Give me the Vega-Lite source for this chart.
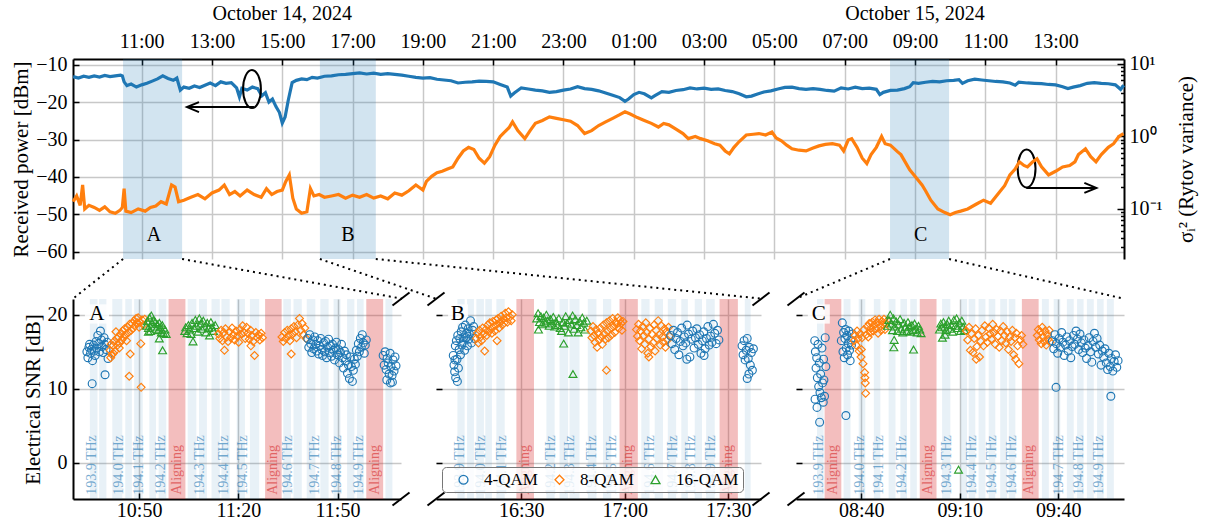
{
"$schema":"https://vega.github.io/schema/vega-lite/v6.json",
"padding":{"left":10,"top":4,"right":2,"bottom":2},
"config":{"font":"Liberation Serif","view":{"stroke":null},
"axis":{"labelFont":"Liberation Serif","titleFont":"Liberation Serif","labelFontSize":20,"titleFontSize":21,"titleFontWeight":"normal","labelColor":"black","titleColor":"black","domainColor":"black","domainWidth":2,"tickColor":"black","tickWidth":1.5,"tickSize":-6,"labelPadding":12,"gridColor":"#c8c8c8","gridWidth":1.5,"labelOverlap":false,"labelFlush":false},
"axisY":{"labelOverlap":false},
"text":{"font":"Liberation Serif"}},
"datasets":{
"power":[{"t":9.05,"p":-13.2},{"t":9.2,"p":-13.6},{"t":9.35,"p":-13.1},{"t":9.5,"p":-13.4},{"t":9.65,"p":-13.0},{"t":9.8,"p":-13.3},{"t":9.95,"p":-12.9},{"t":10.1,"p":-13.2},{"t":10.25,"p":-13.0},{"t":10.4,"p":-12.8},{"t":10.45,"p":-13.0},{"t":10.5,"p":-14.6},{"t":10.58,"p":-15.6},{"t":10.7,"p":-15.2},{"t":10.85,"p":-16.0},{"t":11.0,"p":-15.4},{"t":11.15,"p":-15.0},{"t":11.3,"p":-14.4},{"t":11.45,"p":-13.8},{"t":11.6,"p":-13.0},{"t":11.75,"p":-13.7},{"t":11.9,"p":-14.2},{"t":12.0,"p":-13.6},{"t":12.1,"p":-16.8},{"t":12.2,"p":-16.0},{"t":12.35,"p":-16.3},{"t":12.5,"p":-15.7},{"t":12.65,"p":-16.1},{"t":12.8,"p":-15.5},{"t":12.95,"p":-14.9},{"t":13.1,"p":-15.6},{"t":13.25,"p":-14.6},{"t":13.4,"p":-15.0},{"t":13.55,"p":-14.8},{"t":13.7,"p":-16.2},{"t":13.78,"p":-18.6},{"t":13.85,"p":-16.3},{"t":14.0,"p":-16.8},{"t":14.15,"p":-16.0},{"t":14.3,"p":-16.4},{"t":14.42,"p":-18.3},{"t":14.52,"p":-17.5},{"t":14.62,"p":-20.0},{"t":14.72,"p":-19.2},{"t":14.82,"p":-21.2},{"t":14.92,"p":-22.8},{"t":15.0,"p":-25.6},{"t":15.08,"p":-24.0},{"t":15.17,"p":-19.5},{"t":15.28,"p":-14.8},{"t":15.4,"p":-14.2},{"t":15.55,"p":-13.8},{"t":15.7,"p":-14.0},{"t":15.85,"p":-13.4},{"t":16.0,"p":-13.6},{"t":16.2,"p":-13.1},{"t":16.4,"p":-13.0},{"t":16.6,"p":-12.7},{"t":16.8,"p":-12.6},{"t":17.0,"p":-12.4},{"t":17.2,"p":-12.2},{"t":17.4,"p":-12.5},{"t":17.6,"p":-12.3},{"t":17.8,"p":-12.6},{"t":18.0,"p":-12.4},{"t":18.2,"p":-12.6},{"t":18.4,"p":-12.8},{"t":18.6,"p":-13.1},{"t":18.8,"p":-13.4},{"t":19.0,"p":-13.6},{"t":19.2,"p":-13.5},{"t":19.4,"p":-13.9},{"t":19.6,"p":-14.1},{"t":19.8,"p":-14.3},{"t":20.0,"p":-14.9},{"t":20.2,"p":-14.7},{"t":20.4,"p":-14.6},{"t":20.6,"p":-14.4},{"t":20.8,"p":-14.5},{"t":21.0,"p":-14.6},{"t":21.2,"p":-15.3},{"t":21.4,"p":-16.0},{"t":21.5,"p":-18.4},{"t":21.6,"p":-17.6},{"t":21.8,"p":-16.2},{"t":22.0,"p":-16.5},{"t":22.2,"p":-16.8},{"t":22.4,"p":-17.0},{"t":22.6,"p":-17.4},{"t":22.8,"p":-17.2},{"t":23.0,"p":-16.8},{"t":23.2,"p":-16.5},{"t":23.4,"p":-15.9},{"t":23.6,"p":-16.4},{"t":23.8,"p":-16.6},{"t":24.0,"p":-17.0},{"t":24.2,"p":-17.6},{"t":24.4,"p":-18.2},{"t":24.6,"p":-18.8},{"t":24.75,"p":-19.8},{"t":24.85,"p":-19.2},{"t":25.0,"p":-18.0},{"t":25.15,"p":-17.4},{"t":25.3,"p":-17.8},{"t":25.5,"p":-18.9},{"t":25.6,"p":-18.3},{"t":25.8,"p":-17.2},{"t":26.0,"p":-17.4},{"t":26.2,"p":-16.9},{"t":26.4,"p":-16.7},{"t":26.6,"p":-16.2},{"t":26.8,"p":-16.5},{"t":27.0,"p":-16.3},{"t":27.2,"p":-16.6},{"t":27.4,"p":-16.5},{"t":27.6,"p":-16.9},{"t":27.8,"p":-17.2},{"t":28.0,"p":-17.8},{"t":28.2,"p":-18.6},{"t":28.35,"p":-18.4},{"t":28.5,"p":-17.9},{"t":28.7,"p":-17.3},{"t":28.9,"p":-17.0},{"t":29.1,"p":-16.5},{"t":29.3,"p":-16.1},{"t":29.5,"p":-16.0},{"t":29.7,"p":-16.4},{"t":29.9,"p":-16.6},{"t":30.1,"p":-16.4},{"t":30.3,"p":-16.6},{"t":30.5,"p":-16.9},{"t":30.7,"p":-17.1},{"t":30.9,"p":-16.2},{"t":31.1,"p":-16.5},{"t":31.3,"p":-16.0},{"t":31.5,"p":-16.4},{"t":31.7,"p":-16.3},{"t":31.9,"p":-16.6},{"t":32.0,"p":-18.0},{"t":32.1,"p":-17.4},{"t":32.3,"p":-16.9},{"t":32.5,"p":-16.8},{"t":32.7,"p":-16.4},{"t":32.85,"p":-15.9},{"t":32.95,"p":-14.8},{"t":33.1,"p":-15.0},{"t":33.3,"p":-14.7},{"t":33.5,"p":-14.5},{"t":33.7,"p":-14.6},{"t":33.9,"p":-14.3},{"t":34.1,"p":-14.2},{"t":34.25,"p":-14.0},{"t":34.35,"p":-15.0},{"t":34.5,"p":-14.3},{"t":34.7,"p":-13.9},{"t":34.9,"p":-14.1},{"t":35.1,"p":-14.3},{"t":35.3,"p":-14.5},{"t":35.5,"p":-14.6},{"t":35.7,"p":-14.9},{"t":35.85,"p":-15.5},{"t":35.95,"p":-14.7},{"t":36.2,"p":-14.9},{"t":36.4,"p":-15.0},{"t":36.6,"p":-15.1},{"t":36.8,"p":-15.3},{"t":37.0,"p":-15.4},{"t":37.2,"p":-15.9},{"t":37.35,"p":-16.4},{"t":37.5,"p":-16.0},{"t":37.7,"p":-15.6},{"t":37.9,"p":-15.0},{"t":38.1,"p":-14.8},{"t":38.3,"p":-15.0},{"t":38.5,"p":-15.1},{"t":38.7,"p":-15.4},{"t":38.85,"p":-16.6},{"t":38.94,"p":-15.5}],
"rytov":[{"t":9.05,"r":0.126},{"t":9.15,"r":0.151},{"t":9.25,"r":0.112},{"t":9.32,"r":0.214},{"t":9.38,"r":0.1},{"t":9.5,"r":0.112},{"t":9.65,"r":0.105},{"t":9.8,"r":0.0955},{"t":9.95,"r":0.107},{"t":10.1,"r":0.0912},{"t":10.25,"r":0.0871},{"t":10.38,"r":0.0955},{"t":10.45,"r":0.105},{"t":10.5,"r":0.191},{"t":10.55,"r":0.0933},{"t":10.7,"r":0.0891},{"t":10.9,"r":0.1},{"t":11.1,"r":0.0933},{"t":11.25,"r":0.105},{"t":11.4,"r":0.11},{"t":11.55,"r":0.126},{"t":11.7,"r":0.117},{"t":11.85,"r":0.214},{"t":11.95,"r":0.2},{"t":12.05,"r":0.126},{"t":12.2,"r":0.132},{"t":12.4,"r":0.145},{"t":12.6,"r":0.158},{"t":12.8,"r":0.138},{"t":13.0,"r":0.166},{"t":13.2,"r":0.182},{"t":13.35,"r":0.214},{"t":13.5,"r":0.158},{"t":13.65,"r":0.174},{"t":13.8,"r":0.151},{"t":14.0,"r":0.182},{"t":14.2,"r":0.158},{"t":14.4,"r":0.145},{"t":14.55,"r":0.191},{"t":14.7,"r":0.158},{"t":14.85,"r":0.174},{"t":15.0,"r":0.182},{"t":15.1,"r":0.24},{"t":15.2,"r":0.295},{"t":15.3,"r":0.141},{"t":15.4,"r":0.1},{"t":15.55,"r":0.0871},{"t":15.7,"r":0.0912},{"t":15.8,"r":0.191},{"t":15.9,"r":0.151},{"t":16.05,"r":0.158},{"t":16.2,"r":0.145},{"t":16.4,"r":0.151},{"t":16.6,"r":0.158},{"t":16.8,"r":0.141},{"t":17.0,"r":0.155},{"t":17.2,"r":0.145},{"t":17.4,"r":0.158},{"t":17.6,"r":0.141},{"t":17.8,"r":0.151},{"t":18.0,"r":0.138},{"t":18.2,"r":0.166},{"t":18.4,"r":0.155},{"t":18.6,"r":0.178},{"t":18.8,"r":0.214},{"t":19.0,"r":0.182},{"t":19.1,"r":0.24},{"t":19.25,"r":0.282},{"t":19.4,"r":0.316},{"t":19.55,"r":0.331},{"t":19.7,"r":0.355},{"t":19.85,"r":0.38},{"t":20.0,"r":0.501},{"t":20.15,"r":0.631},{"t":20.3,"r":0.708},{"t":20.45,"r":0.661},{"t":20.6,"r":0.501},{"t":20.75,"r":0.427},{"t":20.9,"r":0.525},{"t":21.05,"r":0.759},{"t":21.2,"r":1.0},{"t":21.3,"r":1.122},{"t":21.45,"r":1.318},{"t":21.55,"r":1.585},{"t":21.7,"r":1.202},{"t":21.9,"r":0.933},{"t":22.05,"r":1.202},{"t":22.2,"r":1.514},{"t":22.4,"r":1.66},{"t":22.6,"r":1.862},{"t":22.8,"r":1.778},{"t":23.0,"r":1.698},{"t":23.2,"r":1.622},{"t":23.4,"r":1.413},{"t":23.6,"r":1.096},{"t":23.8,"r":1.202},{"t":24.0,"r":1.413},{"t":24.2,"r":1.585},{"t":24.4,"r":1.778},{"t":24.6,"r":1.995},{"t":24.75,"r":2.188},{"t":24.9,"r":2.042},{"t":25.1,"r":1.82},{"t":25.3,"r":1.66},{"t":25.5,"r":1.514},{"t":25.7,"r":1.349},{"t":25.85,"r":1.514},{"t":26.0,"r":1.445},{"t":26.2,"r":1.259},{"t":26.4,"r":1.096},{"t":26.55,"r":0.933},{"t":26.75,"r":1.0},{"t":26.9,"r":0.933},{"t":27.1,"r":0.871},{"t":27.3,"r":0.794},{"t":27.45,"r":0.759},{"t":27.6,"r":0.631},{"t":27.72,"r":0.575},{"t":27.85,"r":0.708},{"t":28.0,"r":0.851},{"t":28.2,"r":1.047},{"t":28.4,"r":1.072},{"t":28.56,"r":1.096},{"t":28.75,"r":1.047},{"t":28.93,"r":1.148},{"t":29.05,"r":0.955},{"t":29.2,"r":0.871},{"t":29.35,"r":0.759},{"t":29.5,"r":0.676},{"t":29.7,"r":0.646},{"t":29.9,"r":0.631},{"t":30.1,"r":0.692},{"t":30.27,"r":0.741},{"t":30.45,"r":0.776},{"t":30.65,"r":0.794},{"t":30.85,"r":0.759},{"t":30.97,"r":0.631},{"t":31.1,"r":0.891},{"t":31.2,"r":0.933},{"t":31.35,"r":0.708},{"t":31.5,"r":0.501},{"t":31.63,"r":0.422},{"t":31.75,"r":0.562},{"t":31.9,"r":0.708},{"t":32.05,"r":1.0},{"t":32.15,"r":0.794},{"t":32.3,"r":0.759},{"t":32.5,"r":0.617},{"t":32.6,"r":0.562},{"t":32.85,"r":0.347},{"t":33.0,"r":0.282},{"t":33.2,"r":0.214},{"t":33.3,"r":0.178},{"t":33.45,"r":0.132},{"t":33.65,"r":0.1},{"t":33.85,"r":0.0891},{"t":34.0,"r":0.0832},{"t":34.15,"r":0.0891},{"t":34.3,"r":0.0933},{"t":34.5,"r":0.1},{"t":34.75,"r":0.117},{"t":34.95,"r":0.132},{"t":35.15,"r":0.12},{"t":35.4,"r":0.17},{"t":35.55,"r":0.209},{"t":35.7,"r":0.295},{"t":35.85,"r":0.355},{"t":35.97,"r":0.447},{"t":36.1,"r":0.398},{"t":36.2,"r":0.38},{"t":36.35,"r":0.447},{"t":36.47,"r":0.49},{"t":36.6,"r":0.38},{"t":36.8,"r":0.295},{"t":37.0,"r":0.331},{"t":37.2,"r":0.38},{"t":37.4,"r":0.398},{"t":37.55,"r":0.447},{"t":37.65,"r":0.562},{"t":37.85,"r":0.676},{"t":38.0,"r":0.525},{"t":38.15,"r":0.447},{"t":38.3,"r":0.562},{"t":38.5,"r":0.708},{"t":38.65,"r":0.794},{"t":38.8,"r":1.0},{"t":38.93,"r":1.096}],
"shade":[{"t0":10.47,"t1":12.15,"tm":11.35,"lab":"A"},{"t0":16.07,"t1":17.66,"tm":16.87,"lab":"B"},{"t0":32.29,"t1":33.97,"tm":33.16,"lab":"C"}],
"conn":[{"t0":10.47,"p0":-61.9,"t1":9.046,"p1":-72.5},{"t0":12.15,"p0":-61.9,"t1":18.405,"p1":-72.5},{"t0":16.07,"p0":-61.9,"t1":19.373,"p1":-72.5},{"t0":17.66,"p0":-61.9,"t1":28.647,"p1":-72.5},{"t0":32.29,"p0":-61.9,"t1":29.615,"p1":-72.5},{"t0":33.97,"p0":-61.9,"t1":38.946,"p1":-72.5}],
"bands":[
{"p":"A","a":635.1,"b":637.4,"k":"f"},{"p":"A","a":637.9,"b":640.1,"k":"f"},{"p":"A","a":641.9,"b":644.9,"k":"f"},{"p":"A","a":645.8,"b":647.8,"k":"f"},{"p":"A","a":648.5,"b":651.1,"k":"f"},{"p":"A","a":653.1,"b":655.1,"k":"f"},{"p":"A","a":655.9,"b":658.2,"k":"f"},{"p":"A","a":658.9,"b":664.0,"k":"al"},{"p":"A","a":664.7,"b":667.3,"k":"f"},{"p":"A","a":668.1,"b":670.5,"k":"f"},{"p":"A","a":671.9,"b":674.4,"k":"f"},{"p":"A","a":674.9,"b":677.4,"k":"f"},{"p":"A","a":679.5,"b":682.0,"k":"f"},{"p":"A","a":683.5,"b":686.3,"k":"f"},{"p":"A","a":688.1,"b":693.1,"k":"al"},{"p":"A","a":693.6,"b":695.9,"k":"f"},{"p":"A","a":696.7,"b":699.2,"k":"f"},{"p":"A","a":700.7,"b":703.3,"k":"f"},{"p":"A","a":704.8,"b":707.3,"k":"f"},{"p":"A","a":708.8,"b":710.9,"k":"f"},{"p":"A","a":712.9,"b":715.1,"k":"f"},{"p":"A","a":715.9,"b":717.9,"k":"f"},{"p":"A","a":718.7,"b":723.8,"k":"al"},{"p":"A","a":724.5,"b":726.6,"k":"f"},
{"p":"B","a":971.5,"b":973.6,"k":"f"},{"p":"B","a":974.3,"b":976.3,"k":"f"},{"p":"B","a":977.0,"b":979.2,"k":"f"},{"p":"B","a":979.6,"b":981.5,"k":"f"},{"p":"B","a":982.8,"b":985.2,"k":"f"},{"p":"B","a":988.6,"b":993.7,"k":"al"},{"p":"B","a":997.3,"b":999.7,"k":"f"},{"p":"B","a":1001.1,"b":1003.6,"k":"f"},{"p":"B","a":1004.0,"b":1006.9,"k":"f"},{"p":"B","a":1009.3,"b":1011.8,"k":"f"},{"p":"B","a":1013.7,"b":1016.1,"k":"f"},{"p":"B","a":1018.5,"b":1023.8,"k":"al"},{"p":"B","a":1024.8,"b":1027.2,"k":"f"},{"p":"B","a":1028.7,"b":1031.1,"k":"f"},{"p":"B","a":1032.5,"b":1034.9,"k":"f"},{"p":"B","a":1036.4,"b":1038.3,"k":"f"},{"p":"B","a":1040.3,"b":1042.4,"k":"f"},{"p":"B","a":1043.6,"b":1046.1,"k":"f"},{"p":"B","a":1047.5,"b":1052.8,"k":"al"},{"p":"B","a":1054.8,"b":1056.5,"k":"f"},
{"p":"C","a":506.5,"b":508.5,"k":"f"},{"p":"C","a":508.8,"b":513.9,"k":"al"},{"p":"C","a":514.6,"b":516.7,"k":"f"},{"p":"C","a":519.2,"b":521.2,"k":"f"},{"p":"C","a":523.8,"b":525.8,"k":"f"},{"p":"C","a":528.3,"b":530.4,"k":"f"},{"p":"C","a":531.9,"b":533.9,"k":"f"},{"p":"C","a":534.9,"b":536.9,"k":"f"},{"p":"C","a":537.8,"b":542.9,"k":"al"},{"p":"C","a":544.6,"b":547.1,"k":"f"},{"p":"C","a":550.2,"b":552.2,"k":"f"},{"p":"C","a":552.7,"b":554.7,"k":"f"},{"p":"C","a":555.7,"b":557.8,"k":"f"},{"p":"C","a":558.8,"b":560.8,"k":"f"},{"p":"C","a":562.3,"b":564.4,"k":"f"},{"p":"C","a":564.9,"b":566.9,"k":"f"},{"p":"C","a":568.9,"b":574.0,"k":"al"},{"p":"C","a":575.0,"b":577.1,"k":"f"},{"p":"C","a":578.6,"b":580.6,"k":"f"},{"p":"C","a":582.6,"b":584.7,"k":"f"},{"p":"C","a":585.7,"b":587.7,"k":"f"},{"p":"C","a":588.7,"b":590.8,"k":"f"},{"p":"C","a":591.8,"b":593.8,"k":"f"},{"p":"C","a":594.8,"b":596.9,"k":"f"}],
"fl":[
{"p":"A","t":635.8,"l":"193.9 THz","k":"f"},{"p":"A","t":643.8,"l":"194.0 THz","k":"f"},{"p":"A","t":649.9,"l":"194.1 THz","k":"f"},{"p":"A","t":656.6,"l":"194.2 THz","k":"f"},{"p":"A","t":661.4,"l":"Aligning","k":"al"},{"p":"A","t":668.3,"l":"194.3 THz","k":"f"},{"p":"A","t":675.6,"l":"194.4 THz","k":"f"},{"p":"A","t":681.4,"l":"194.5 THz","k":"f"},{"p":"A","t":690.6,"l":"Aligning","k":"al"},{"p":"A","t":695.1,"l":"194.6 THz","k":"f"},{"p":"A","t":703.3,"l":"194.7 THz","k":"f"},{"p":"A","t":709.8,"l":"194.8 THz","k":"f"},{"p":"A","t":716.4,"l":"194.9 THz","k":"f"},{"p":"A","t":721.2,"l":"Aligning","k":"al"},
{"p":"B","t":972.3,"l":"193.9 THz","k":"f"},{"p":"B","t":978.4,"l":"194.0 THz","k":"f"},{"p":"B","t":984.5,"l":"194.1 THz","k":"f"},{"p":"B","t":991.2,"l":"Aligning","k":"al"},{"p":"B","t":998.7,"l":"194.2 THz","k":"f"},{"p":"B","t":1004.0,"l":"194.3 THz","k":"f"},{"p":"B","t":1010.6,"l":"194.4 THz","k":"f"},{"p":"B","t":1016.3,"l":"194.5 THz","k":"f"},{"p":"B","t":1020.9,"l":"Aligning","k":"al"},{"p":"B","t":1027.4,"l":"194.6 THz","k":"f"},{"p":"B","t":1034.0,"l":"194.7 THz","k":"f"},{"p":"B","t":1039.3,"l":"194.8 THz","k":"f"},{"p":"B","t":1045.1,"l":"194.9 THz","k":"f"},{"p":"B","t":1049.9,"l":"Aligning","k":"al"},
{"p":"C","t":507.0,"l":"193.9 THz","k":"f"},{"p":"C","t":511.4,"l":"Aligning","k":"al"},{"p":"C","t":519.7,"l":"194.0 THz","k":"f"},{"p":"C","t":525.3,"l":"194.1 THz","k":"f"},{"p":"C","t":532.4,"l":"194.2 THz","k":"f"},{"p":"C","t":540.3,"l":"Aligning","k":"al"},{"p":"C","t":546.1,"l":"194.3 THz","k":"f"},{"p":"C","t":553.7,"l":"194.4 THz","k":"f"},{"p":"C","t":559.8,"l":"194.5 THz","k":"f"},{"p":"C","t":565.9,"l":"194.6 THz","k":"f"},{"p":"C","t":571.2,"l":"Aligning","k":"al"},{"p":"C","t":580.1,"l":"194.7 THz","k":"f"},{"p":"C","t":586.2,"l":"194.8 THz","k":"f"},{"p":"C","t":592.3,"l":"194.9 THz","k":"f"}],
"snr":[
{"p":"A","t":634.2,"s":15.0,"m":"4-QAM"},{"p":"A","t":634.5,"s":14.2,"m":"4-QAM"},{"p":"A","t":634.8,"s":15.6,"m":"4-QAM"},{"p":"A","t":635.0,"s":16.0,"m":"4-QAM"},{"p":"A","t":635.3,"s":14.8,"m":"4-QAM"},{"p":"A","t":635.6,"s":15.3,"m":"4-QAM"},{"p":"A","t":635.9,"s":13.8,"m":"4-QAM"},{"p":"A","t":636.2,"s":15.9,"m":"4-QAM"},{"p":"A","t":636.4,"s":15.1,"m":"4-QAM"},{"p":"A","t":636.7,"s":14.5,"m":"4-QAM"},{"p":"A","t":637.0,"s":16.4,"m":"4-QAM"},{"p":"A","t":637.2,"s":15.5,"m":"4-QAM"},{"p":"A","t":637.5,"s":17.2,"m":"4-QAM"},{"p":"A","t":637.8,"s":16.1,"m":"4-QAM"},{"p":"A","t":638.0,"s":15.0,"m":"4-QAM"},{"p":"A","t":638.3,"s":17.8,"m":"4-QAM"},{"p":"A","t":638.6,"s":16.6,"m":"4-QAM"},{"p":"A","t":638.8,"s":15.7,"m":"4-QAM"},{"p":"A","t":639.1,"s":14.9,"m":"4-QAM"},{"p":"A","t":639.4,"s":16.9,"m":"4-QAM"},{"p":"A","t":639.6,"s":16.0,"m":"4-QAM"},{"p":"A","t":640.0,"s":15.3,"m":"4-QAM"},{"p":"A","t":640.3,"s":16.3,"m":"4-QAM"},{"p":"A","t":640.6,"s":14.1,"m":"4-QAM"},{"p":"A","t":635.8,"s":10.7,"m":"4-QAM"},{"p":"A","t":639.7,"s":11.9,"m":"4-QAM"},
{"p":"A","t":641.2,"s":15.2,"m":"8-QAM"},{"p":"A","t":641.5,"s":16.0,"m":"8-QAM"},{"p":"A","t":641.8,"s":14.6,"m":"8-QAM"},{"p":"A","t":642.1,"s":15.8,"m":"8-QAM"},{"p":"A","t":642.4,"s":16.4,"m":"8-QAM"},{"p":"A","t":642.7,"s":15.1,"m":"8-QAM"},{"p":"A","t":643.0,"s":17.7,"m":"8-QAM"},{"p":"A","t":643.2,"s":16.8,"m":"8-QAM"},{"p":"A","t":643.5,"s":15.9,"m":"8-QAM"},{"p":"A","t":643.8,"s":17.0,"m":"8-QAM"},{"p":"A","t":644.1,"s":16.2,"m":"8-QAM"},{"p":"A","t":644.4,"s":17.4,"m":"8-QAM"},{"p":"A","t":644.7,"s":16.6,"m":"8-QAM"},{"p":"A","t":645.0,"s":17.8,"m":"8-QAM"},{"p":"A","t":645.3,"s":16.9,"m":"8-QAM"},{"p":"A","t":645.6,"s":18.1,"m":"8-QAM"},{"p":"A","t":645.9,"s":17.3,"m":"8-QAM"},{"p":"A","t":646.2,"s":16.5,"m":"8-QAM"},{"p":"A","t":646.5,"s":18.3,"m":"8-QAM"},{"p":"A","t":646.8,"s":17.6,"m":"8-QAM"},{"p":"A","t":647.1,"s":18.7,"m":"8-QAM"},{"p":"A","t":647.3,"s":14.7,"m":"8-QAM"},{"p":"A","t":647.0,"s":11.7,"m":"8-QAM"},{"p":"A","t":647.6,"s":17.9,"m":"8-QAM"},{"p":"A","t":647.9,"s":18.8,"m":"8-QAM"},{"p":"A","t":648.2,"s":18.2,"m":"8-QAM"},{"p":"A","t":648.5,"s":19.2,"m":"8-QAM"},{"p":"A","t":648.8,"s":18.5,"m":"8-QAM"},{"p":"A","t":649.1,"s":19.5,"m":"8-QAM"},{"p":"A","t":649.4,"s":18.9,"m":"8-QAM"},{"p":"A","t":649.7,"s":19.6,"m":"8-QAM"},{"p":"A","t":650.0,"s":18.3,"m":"8-QAM"},{"p":"A","t":650.3,"s":19.0,"m":"8-QAM"},{"p":"A","t":650.5,"s":16.1,"m":"8-QAM"},{"p":"A","t":650.6,"s":10.2,"m":"8-QAM"},{"p":"A","t":650.9,"s":19.3,"m":"8-QAM"},{"p":"A","t":651.3,"s":18.6,"m":"8-QAM"},{"p":"A","t":651.7,"s":19.4,"m":"8-QAM"},{"p":"A","t":641.4,"s":14.2,"m":"8-QAM"},{"p":"A","t":642.2,"s":14.8,"m":"8-QAM"},{"p":"A","t":644.0,"s":15.5,"m":"8-QAM"},
{"p":"A","t":652.2,"s":18.5,"m":"16-QAM"},{"p":"A","t":652.5,"s":19.1,"m":"16-QAM"},{"p":"A","t":652.8,"s":18.2,"m":"16-QAM"},{"p":"A","t":653.1,"s":19.6,"m":"16-QAM"},{"p":"A","t":653.4,"s":17.8,"m":"16-QAM"},{"p":"A","t":653.7,"s":19.9,"m":"16-QAM"},{"p":"A","t":654.0,"s":18.8,"m":"16-QAM"},{"p":"A","t":654.3,"s":19.3,"m":"16-QAM"},{"p":"A","t":654.6,"s":18.4,"m":"16-QAM"},{"p":"A","t":654.9,"s":19.0,"m":"16-QAM"},{"p":"A","t":655.2,"s":18.1,"m":"16-QAM"},{"p":"A","t":655.5,"s":18.7,"m":"16-QAM"},{"p":"A","t":655.8,"s":17.9,"m":"16-QAM"},{"p":"A","t":656.1,"s":16.8,"m":"16-QAM"},{"p":"A","t":656.1,"s":18.9,"m":"16-QAM"},{"p":"A","t":656.4,"s":18.3,"m":"16-QAM"},{"p":"A","t":656.7,"s":17.6,"m":"16-QAM"},{"p":"A","t":657.1,"s":15.2,"m":"16-QAM"},{"p":"A","t":657.0,"s":18.6,"m":"16-QAM"},{"p":"A","t":657.4,"s":17.5,"m":"16-QAM"},{"p":"A","t":657.8,"s":18.0,"m":"16-QAM"},{"p":"A","t":658.2,"s":17.4,"m":"16-QAM"},{"p":"A","t":652.8,"s":17.7,"m":"16-QAM"},
{"p":"A","t":663.8,"s":17.8,"m":"16-QAM"},{"p":"A","t":664.1,"s":18.3,"m":"16-QAM"},{"p":"A","t":664.5,"s":17.5,"m":"16-QAM"},{"p":"A","t":664.9,"s":18.6,"m":"16-QAM"},{"p":"A","t":665.3,"s":18.0,"m":"16-QAM"},{"p":"A","t":665.7,"s":17.4,"m":"16-QAM"},{"p":"A","t":666.0,"s":18.9,"m":"16-QAM"},{"p":"A","t":666.3,"s":16.4,"m":"16-QAM"},{"p":"A","t":666.6,"s":18.2,"m":"16-QAM"},{"p":"A","t":667.0,"s":19.3,"m":"16-QAM"},{"p":"A","t":667.4,"s":18.5,"m":"16-QAM"},{"p":"A","t":667.8,"s":17.7,"m":"16-QAM"},{"p":"A","t":668.2,"s":19.5,"m":"16-QAM"},{"p":"A","t":668.6,"s":18.8,"m":"16-QAM"},{"p":"A","t":669.0,"s":18.1,"m":"16-QAM"},{"p":"A","t":669.4,"s":19.2,"m":"16-QAM"},{"p":"A","t":669.8,"s":18.4,"m":"16-QAM"},{"p":"A","t":670.2,"s":17.6,"m":"16-QAM"},{"p":"A","t":670.6,"s":18.9,"m":"16-QAM"},{"p":"A","t":671.0,"s":18.2,"m":"16-QAM"},{"p":"A","t":671.3,"s":17.2,"m":"16-QAM"},{"p":"A","t":671.7,"s":19.0,"m":"16-QAM"},{"p":"A","t":672.1,"s":18.3,"m":"16-QAM"},{"p":"A","t":672.5,"s":17.8,"m":"16-QAM"},{"p":"A","t":673.0,"s":18.6,"m":"16-QAM"},
{"p":"A","t":674.0,"s":17.4,"m":"8-QAM"},{"p":"A","t":674.4,"s":16.8,"m":"8-QAM"},{"p":"A","t":674.8,"s":17.9,"m":"8-QAM"},{"p":"A","t":675.2,"s":16.5,"m":"8-QAM"},{"p":"A","t":675.6,"s":17.6,"m":"8-QAM"},{"p":"A","t":675.8,"s":15.2,"m":"8-QAM"},{"p":"A","t":676.1,"s":18.1,"m":"8-QAM"},{"p":"A","t":676.5,"s":17.0,"m":"8-QAM"},{"p":"A","t":676.9,"s":16.4,"m":"8-QAM"},{"p":"A","t":677.3,"s":17.7,"m":"8-QAM"},{"p":"A","t":677.7,"s":16.9,"m":"8-QAM"},{"p":"A","t":678.1,"s":18.2,"m":"8-QAM"},{"p":"A","t":678.5,"s":17.3,"m":"8-QAM"},{"p":"A","t":678.9,"s":16.6,"m":"8-QAM"},{"p":"A","t":679.3,"s":17.8,"m":"8-QAM"},{"p":"A","t":679.7,"s":17.1,"m":"8-QAM"},{"p":"A","t":680.1,"s":16.3,"m":"8-QAM"},{"p":"A","t":680.5,"s":18.0,"m":"8-QAM"},{"p":"A","t":680.9,"s":17.4,"m":"8-QAM"},{"p":"A","t":681.3,"s":18.5,"m":"8-QAM"},{"p":"A","t":681.7,"s":17.6,"m":"8-QAM"},{"p":"A","t":682.1,"s":16.8,"m":"8-QAM"},{"p":"A","t":682.5,"s":18.3,"m":"8-QAM"},{"p":"A","t":682.9,"s":17.5,"m":"8-QAM"},{"p":"A","t":683.3,"s":16.7,"m":"8-QAM"},{"p":"A","t":683.7,"s":17.9,"m":"8-QAM"},{"p":"A","t":684.1,"s":17.2,"m":"8-QAM"},{"p":"A","t":684.5,"s":16.4,"m":"8-QAM"},{"p":"A","t":684.9,"s":14.5,"m":"8-QAM"},{"p":"A","t":685.3,"s":17.6,"m":"8-QAM"},{"p":"A","t":685.7,"s":16.9,"m":"8-QAM"},{"p":"A","t":686.1,"s":17.3,"m":"8-QAM"},{"p":"A","t":686.5,"s":16.6,"m":"8-QAM"},{"p":"A","t":686.9,"s":17.5,"m":"8-QAM"},{"p":"A","t":687.3,"s":16.9,"m":"8-QAM"},{"p":"A","t":683.8,"s":15.8,"m":"8-QAM"},
{"p":"A","t":693.2,"s":17.0,"m":"8-QAM"},{"p":"A","t":693.6,"s":16.4,"m":"8-QAM"},{"p":"A","t":694.0,"s":17.6,"m":"8-QAM"},{"p":"A","t":694.4,"s":16.8,"m":"8-QAM"},{"p":"A","t":694.8,"s":17.9,"m":"8-QAM"},{"p":"A","t":695.2,"s":17.2,"m":"8-QAM"},{"p":"A","t":695.6,"s":16.5,"m":"8-QAM"},{"p":"A","t":696.0,"s":14.7,"m":"8-QAM"},{"p":"A","t":696.0,"s":18.1,"m":"8-QAM"},{"p":"A","t":696.4,"s":17.4,"m":"8-QAM"},{"p":"A","t":696.8,"s":18.4,"m":"8-QAM"},{"p":"A","t":697.2,"s":17.7,"m":"8-QAM"},{"p":"A","t":697.6,"s":16.9,"m":"8-QAM"},{"p":"A","t":698.0,"s":18.6,"m":"8-QAM"},{"p":"A","t":698.5,"s":19.5,"m":"8-QAM"},{"p":"A","t":698.9,"s":17.9,"m":"8-QAM"},{"p":"A","t":699.3,"s":18.8,"m":"8-QAM"},{"p":"A","t":699.7,"s":17.3,"m":"8-QAM"},{"p":"A","t":700.1,"s":18.2,"m":"8-QAM"},{"p":"A","t":700.5,"s":16.8,"m":"8-QAM"},
{"p":"A","t":701.0,"s":16.8,"m":"4-QAM"},{"p":"A","t":701.3,"s":15.6,"m":"4-QAM"},{"p":"A","t":701.6,"s":17.3,"m":"4-QAM"},{"p":"A","t":701.9,"s":16.1,"m":"4-QAM"},{"p":"A","t":702.2,"s":14.9,"m":"4-QAM"},{"p":"A","t":702.5,"s":16.6,"m":"4-QAM"},{"p":"A","t":702.8,"s":15.4,"m":"4-QAM"},{"p":"A","t":703.1,"s":17.0,"m":"4-QAM"},{"p":"A","t":703.4,"s":16.0,"m":"4-QAM"},{"p":"A","t":703.7,"s":15.1,"m":"4-QAM"},{"p":"A","t":704.0,"s":16.5,"m":"4-QAM"},{"p":"A","t":704.3,"s":14.7,"m":"4-QAM"},{"p":"A","t":704.6,"s":15.8,"m":"4-QAM"},{"p":"A","t":704.9,"s":16.8,"m":"4-QAM"},{"p":"A","t":705.2,"s":15.3,"m":"4-QAM"},{"p":"A","t":705.5,"s":14.5,"m":"4-QAM"},{"p":"A","t":705.8,"s":16.2,"m":"4-QAM"},{"p":"A","t":706.1,"s":15.0,"m":"4-QAM"},{"p":"A","t":706.4,"s":16.4,"m":"4-QAM"},{"p":"A","t":706.7,"s":14.2,"m":"4-QAM"},{"p":"A","t":707.0,"s":15.6,"m":"4-QAM"},{"p":"A","t":707.3,"s":16.7,"m":"4-QAM"},{"p":"A","t":707.6,"s":14.9,"m":"4-QAM"},{"p":"A","t":707.9,"s":15.8,"m":"4-QAM"},{"p":"A","t":708.2,"s":14.4,"m":"4-QAM"},{"p":"A","t":708.5,"s":16.0,"m":"4-QAM"},{"p":"A","t":708.8,"s":15.2,"m":"4-QAM"},{"p":"A","t":709.1,"s":13.9,"m":"4-QAM"},{"p":"A","t":709.4,"s":15.5,"m":"4-QAM"},{"p":"A","t":709.7,"s":16.3,"m":"4-QAM"},{"p":"A","t":710.0,"s":14.6,"m":"4-QAM"},{"p":"A","t":710.3,"s":15.3,"m":"4-QAM"},{"p":"A","t":710.6,"s":13.5,"m":"4-QAM"},{"p":"A","t":710.9,"s":14.9,"m":"4-QAM"},{"p":"A","t":711.2,"s":16.0,"m":"4-QAM"},{"p":"A","t":711.5,"s":14.2,"m":"4-QAM"},{"p":"A","t":711.8,"s":12.8,"m":"4-QAM"},{"p":"A","t":712.1,"s":15.1,"m":"4-QAM"},{"p":"A","t":712.4,"s":13.8,"m":"4-QAM"},{"p":"A","t":712.7,"s":14.6,"m":"4-QAM"},{"p":"A","t":713.0,"s":12.1,"m":"4-QAM"},{"p":"A","t":713.3,"s":13.2,"m":"4-QAM"},{"p":"A","t":713.6,"s":11.4,"m":"4-QAM"},{"p":"A","t":713.9,"s":14.3,"m":"4-QAM"},{"p":"A","t":714.2,"s":13.0,"m":"4-QAM"},{"p":"A","t":714.5,"s":11.0,"m":"4-QAM"},{"p":"A","t":714.8,"s":12.5,"m":"4-QAM"},{"p":"A","t":715.1,"s":14.0,"m":"4-QAM"},{"p":"A","t":715.4,"s":13.3,"m":"4-QAM"},{"p":"A","t":715.7,"s":15.2,"m":"4-QAM"},{"p":"A","t":716.0,"s":14.4,"m":"4-QAM"},{"p":"A","t":716.3,"s":16.1,"m":"4-QAM"},{"p":"A","t":716.6,"s":15.0,"m":"4-QAM"},{"p":"A","t":716.9,"s":16.8,"m":"4-QAM"},{"p":"A","t":717.2,"s":15.6,"m":"4-QAM"},{"p":"A","t":717.5,"s":17.3,"m":"4-QAM"},{"p":"A","t":717.8,"s":16.2,"m":"4-QAM"},{"p":"A","t":718.1,"s":14.8,"m":"4-QAM"},{"p":"A","t":718.4,"s":15.9,"m":"4-QAM"},{"p":"A","t":718.7,"s":16.6,"m":"4-QAM"},
{"p":"A","t":723.8,"s":14.5,"m":"4-QAM"},{"p":"A","t":724.1,"s":13.2,"m":"4-QAM"},{"p":"A","t":724.4,"s":15.0,"m":"4-QAM"},{"p":"A","t":724.7,"s":12.6,"m":"4-QAM"},{"p":"A","t":725.0,"s":14.1,"m":"4-QAM"},{"p":"A","t":725.3,"s":13.5,"m":"4-QAM"},{"p":"A","t":725.6,"s":12.0,"m":"4-QAM"},{"p":"A","t":725.9,"s":14.8,"m":"4-QAM"},{"p":"A","t":726.2,"s":13.0,"m":"4-QAM"},{"p":"A","t":726.5,"s":11.8,"m":"4-QAM"},{"p":"A","t":726.8,"s":13.9,"m":"4-QAM"},{"p":"A","t":727.1,"s":12.4,"m":"4-QAM"},{"p":"A","t":727.4,"s":14.3,"m":"4-QAM"},{"p":"A","t":727.7,"s":13.1,"m":"4-QAM"},{"p":"A","t":726.0,"s":10.8,"m":"4-QAM"},{"p":"A","t":726.6,"s":10.9,"m":"4-QAM"},{"p":"A","t":724.9,"s":11.2,"m":"4-QAM"},
{"p":"B","t":970.3,"s":14.5,"m":"4-QAM"},{"p":"B","t":970.5,"s":13.2,"m":"4-QAM"},{"p":"B","t":970.7,"s":12.3,"m":"4-QAM"},{"p":"B","t":970.9,"s":15.8,"m":"4-QAM"},{"p":"B","t":971.0,"s":11.5,"m":"4-QAM"},{"p":"B","t":971.2,"s":16.5,"m":"4-QAM"},{"p":"B","t":971.4,"s":14.0,"m":"4-QAM"},{"p":"B","t":971.6,"s":17.2,"m":"4-QAM"},{"p":"B","t":971.8,"s":12.8,"m":"4-QAM"},{"p":"B","t":972.0,"s":15.3,"m":"4-QAM"},{"p":"B","t":972.2,"s":16.8,"m":"4-QAM"},{"p":"B","t":972.4,"s":14.6,"m":"4-QAM"},{"p":"B","t":972.6,"s":17.7,"m":"4-QAM"},{"p":"B","t":972.8,"s":15.9,"m":"4-QAM"},{"p":"B","t":973.0,"s":18.3,"m":"4-QAM"},{"p":"B","t":973.2,"s":16.4,"m":"4-QAM"},{"p":"B","t":973.4,"s":17.0,"m":"4-QAM"},{"p":"B","t":973.6,"s":15.2,"m":"4-QAM"},{"p":"B","t":973.8,"s":18.6,"m":"4-QAM"},{"p":"B","t":974.0,"s":16.9,"m":"4-QAM"},{"p":"B","t":974.2,"s":17.5,"m":"4-QAM"},{"p":"B","t":974.4,"s":15.8,"m":"4-QAM"},{"p":"B","t":974.6,"s":18.1,"m":"4-QAM"},{"p":"B","t":974.8,"s":16.7,"m":"4-QAM"},{"p":"B","t":975.0,"s":17.4,"m":"4-QAM"},{"p":"B","t":975.3,"s":19.2,"m":"4-QAM"},{"p":"B","t":975.6,"s":16.2,"m":"4-QAM"},{"p":"B","t":975.9,"s":17.9,"m":"4-QAM"},{"p":"B","t":976.2,"s":18.4,"m":"4-QAM"},{"p":"B","t":976.5,"s":16.8,"m":"4-QAM"},{"p":"B","t":971.5,"s":11.0,"m":"4-QAM"},{"p":"B","t":970.8,"s":13.9,"m":"4-QAM"},
{"p":"B","t":977.0,"s":16.8,"m":"8-QAM"},{"p":"B","t":977.3,"s":17.5,"m":"8-QAM"},{"p":"B","t":977.6,"s":16.2,"m":"8-QAM"},{"p":"B","t":977.9,"s":17.9,"m":"8-QAM"},{"p":"B","t":978.2,"s":17.0,"m":"8-QAM"},{"p":"B","t":978.5,"s":16.5,"m":"8-QAM"},{"p":"B","t":978.8,"s":18.2,"m":"8-QAM"},{"p":"B","t":979.1,"s":17.4,"m":"8-QAM"},{"p":"B","t":979.4,"s":15.1,"m":"8-QAM"},{"p":"B","t":979.7,"s":18.0,"m":"8-QAM"},{"p":"B","t":980.0,"s":17.2,"m":"8-QAM"},{"p":"B","t":980.3,"s":18.6,"m":"8-QAM"},{"p":"B","t":980.6,"s":17.7,"m":"8-QAM"},{"p":"B","t":980.9,"s":18.9,"m":"8-QAM"},{"p":"B","t":981.2,"s":18.1,"m":"8-QAM"},{"p":"B","t":981.5,"s":17.5,"m":"8-QAM"},{"p":"B","t":981.8,"s":19.1,"m":"8-QAM"},{"p":"B","t":982.1,"s":18.4,"m":"8-QAM"},{"p":"B","t":982.4,"s":17.8,"m":"8-QAM"},{"p":"B","t":982.7,"s":19.3,"m":"8-QAM"},{"p":"B","t":983.0,"s":16.5,"m":"8-QAM"},{"p":"B","t":983.0,"s":18.7,"m":"8-QAM"},{"p":"B","t":983.3,"s":19.5,"m":"8-QAM"},{"p":"B","t":983.6,"s":18.2,"m":"8-QAM"},{"p":"B","t":983.9,"s":19.0,"m":"8-QAM"},{"p":"B","t":984.2,"s":19.8,"m":"8-QAM"},{"p":"B","t":984.5,"s":18.6,"m":"8-QAM"},{"p":"B","t":984.8,"s":19.4,"m":"8-QAM"},{"p":"B","t":985.1,"s":18.9,"m":"8-QAM"},{"p":"B","t":985.4,"s":20.2,"m":"8-QAM"},{"p":"B","t":985.7,"s":19.6,"m":"8-QAM"},{"p":"B","t":986.0,"s":19.0,"m":"8-QAM"},{"p":"B","t":986.3,"s":20.4,"m":"8-QAM"},{"p":"B","t":986.7,"s":19.7,"m":"8-QAM"},{"p":"B","t":987.1,"s":19.2,"m":"8-QAM"},{"p":"B","t":987.4,"s":20.0,"m":"8-QAM"},
{"p":"B","t":994.5,"s":19.5,"m":"16-QAM"},{"p":"B","t":994.9,"s":20.2,"m":"16-QAM"},{"p":"B","t":995.3,"s":19.0,"m":"16-QAM"},{"p":"B","t":995.7,"s":19.8,"m":"16-QAM"},{"p":"B","t":996.1,"s":18.7,"m":"16-QAM"},{"p":"B","t":996.5,"s":19.6,"m":"16-QAM"},{"p":"B","t":996.9,"s":18.9,"m":"16-QAM"},{"p":"B","t":997.3,"s":20.0,"m":"16-QAM"},{"p":"B","t":997.7,"s":19.2,"m":"16-QAM"},{"p":"B","t":998.1,"s":18.5,"m":"16-QAM"},{"p":"B","t":998.5,"s":19.4,"m":"16-QAM"},{"p":"B","t":998.9,"s":18.8,"m":"16-QAM"},{"p":"B","t":999.3,"s":19.7,"m":"16-QAM"},{"p":"B","t":999.7,"s":18.4,"m":"16-QAM"},{"p":"B","t":1000.1,"s":19.1,"m":"16-QAM"},{"p":"B","t":1000.5,"s":18.6,"m":"16-QAM"},{"p":"B","t":1000.9,"s":19.5,"m":"16-QAM"},{"p":"B","t":1001.3,"s":18.2,"m":"16-QAM"},{"p":"B","t":1001.7,"s":17.8,"m":"16-QAM"},{"p":"B","t":1002.1,"s":19.0,"m":"16-QAM"},{"p":"B","t":1002.3,"s":16.1,"m":"16-QAM"},{"p":"B","t":1002.5,"s":18.5,"m":"16-QAM"},{"p":"B","t":1002.9,"s":19.8,"m":"16-QAM"},{"p":"B","t":1003.3,"s":18.9,"m":"16-QAM"},{"p":"B","t":1003.7,"s":17.6,"m":"16-QAM"},{"p":"B","t":1004.1,"s":19.3,"m":"16-QAM"},{"p":"B","t":1004.5,"s":18.7,"m":"16-QAM"},{"p":"B","t":1004.9,"s":19.9,"m":"16-QAM"},{"p":"B","t":1005.0,"s":12.0,"m":"16-QAM"},{"p":"B","t":1005.3,"s":18.1,"m":"16-QAM"},{"p":"B","t":1005.7,"s":19.4,"m":"16-QAM"},{"p":"B","t":1006.1,"s":18.6,"m":"16-QAM"},{"p":"B","t":1006.5,"s":17.6,"m":"16-QAM"},{"p":"B","t":1006.9,"s":19.1,"m":"16-QAM"},{"p":"B","t":1007.3,"s":18.3,"m":"16-QAM"},{"p":"B","t":1007.7,"s":19.6,"m":"16-QAM"},{"p":"B","t":1008.1,"s":18.9,"m":"16-QAM"},{"p":"B","t":1008.5,"s":18.0,"m":"16-QAM"},{"p":"B","t":1009.0,"s":19.2,"m":"16-QAM"},{"p":"B","t":995.0,"s":18.0,"m":"16-QAM"},
{"p":"B","t":1010.2,"s":17.8,"m":"8-QAM"},{"p":"B","t":1010.5,"s":16.9,"m":"8-QAM"},{"p":"B","t":1010.8,"s":18.4,"m":"8-QAM"},{"p":"B","t":1011.1,"s":17.2,"m":"8-QAM"},{"p":"B","t":1011.4,"s":16.3,"m":"8-QAM"},{"p":"B","t":1011.7,"s":18.0,"m":"8-QAM"},{"p":"B","t":1012.0,"s":15.6,"m":"8-QAM"},{"p":"B","t":1012.3,"s":17.5,"m":"8-QAM"},{"p":"B","t":1012.6,"s":16.6,"m":"8-QAM"},{"p":"B","t":1012.9,"s":18.2,"m":"8-QAM"},{"p":"B","t":1013.2,"s":17.0,"m":"8-QAM"},{"p":"B","t":1013.5,"s":16.0,"m":"8-QAM"},{"p":"B","t":1013.8,"s":18.6,"m":"8-QAM"},{"p":"B","t":1014.1,"s":17.4,"m":"8-QAM"},{"p":"B","t":1014.4,"s":16.7,"m":"8-QAM"},{"p":"B","t":1014.7,"s":12.5,"m":"8-QAM"},{"p":"B","t":1014.7,"s":18.9,"m":"8-QAM"},{"p":"B","t":1015.0,"s":17.8,"m":"8-QAM"},{"p":"B","t":1015.3,"s":16.9,"m":"8-QAM"},{"p":"B","t":1015.6,"s":19.2,"m":"8-QAM"},{"p":"B","t":1015.9,"s":18.1,"m":"8-QAM"},{"p":"B","t":1016.2,"s":17.3,"m":"8-QAM"},{"p":"B","t":1016.5,"s":19.5,"m":"8-QAM"},{"p":"B","t":1016.8,"s":18.4,"m":"8-QAM"},{"p":"B","t":1017.1,"s":17.6,"m":"8-QAM"},{"p":"B","t":1017.4,"s":19.0,"m":"8-QAM"},{"p":"B","t":1017.7,"s":18.7,"m":"8-QAM"},{"p":"B","t":1018.0,"s":19.6,"m":"8-QAM"},{"p":"B","t":1018.3,"s":18.2,"m":"8-QAM"},{"p":"B","t":1018.6,"s":19.3,"m":"8-QAM"},{"p":"B","t":1018.9,"s":18.8,"m":"8-QAM"},{"p":"B","t":1019.2,"s":17.9,"m":"8-QAM"},{"p":"B","t":1019.5,"s":19.1,"m":"8-QAM"},
{"p":"B","t":1023.4,"s":18.0,"m":"8-QAM"},{"p":"B","t":1023.7,"s":17.1,"m":"8-QAM"},{"p":"B","t":1024.0,"s":18.7,"m":"8-QAM"},{"p":"B","t":1024.3,"s":16.5,"m":"8-QAM"},{"p":"B","t":1024.6,"s":17.8,"m":"8-QAM"},{"p":"B","t":1024.9,"s":15.4,"m":"8-QAM"},{"p":"B","t":1025.2,"s":18.4,"m":"8-QAM"},{"p":"B","t":1025.5,"s":17.2,"m":"8-QAM"},{"p":"B","t":1025.8,"s":16.0,"m":"8-QAM"},{"p":"B","t":1026.1,"s":18.9,"m":"8-QAM"},{"p":"B","t":1026.4,"s":17.6,"m":"8-QAM"},{"p":"B","t":1026.7,"s":14.8,"m":"8-QAM"},{"p":"B","t":1027.0,"s":16.7,"m":"8-QAM"},{"p":"B","t":1027.3,"s":18.2,"m":"8-QAM"},{"p":"B","t":1027.6,"s":15.7,"m":"8-QAM"},{"p":"B","t":1027.9,"s":17.4,"m":"8-QAM"},{"p":"B","t":1028.2,"s":16.2,"m":"8-QAM"},{"p":"B","t":1028.5,"s":18.6,"m":"8-QAM"},{"p":"B","t":1028.8,"s":15.1,"m":"8-QAM"},{"p":"B","t":1029.1,"s":17.9,"m":"8-QAM"},{"p":"B","t":1029.4,"s":16.8,"m":"8-QAM"},{"p":"B","t":1029.7,"s":19.2,"m":"8-QAM"},{"p":"B","t":1030.0,"s":17.3,"m":"8-QAM"},{"p":"B","t":1030.3,"s":15.9,"m":"8-QAM"},{"p":"B","t":1030.6,"s":18.5,"m":"8-QAM"},{"p":"B","t":1030.9,"s":17.0,"m":"8-QAM"},{"p":"B","t":1031.2,"s":16.3,"m":"8-QAM"},{"p":"B","t":1031.5,"s":18.1,"m":"8-QAM"},{"p":"B","t":1031.8,"s":15.6,"m":"8-QAM"},{"p":"B","t":1032.1,"s":17.7,"m":"8-QAM"},{"p":"B","t":1032.4,"s":16.6,"m":"8-QAM"},{"p":"B","t":1032.7,"s":18.3,"m":"8-QAM"},{"p":"B","t":1033.0,"s":17.1,"m":"8-QAM"},{"p":"B","t":1027.0,"s":14.3,"m":"8-QAM"},
{"p":"B","t":1033.3,"s":17.2,"m":"4-QAM"},{"p":"B","t":1033.7,"s":16.1,"m":"4-QAM"},{"p":"B","t":1034.1,"s":17.9,"m":"4-QAM"},{"p":"B","t":1034.5,"s":15.3,"m":"4-QAM"},{"p":"B","t":1034.9,"s":16.8,"m":"4-QAM"},{"p":"B","t":1035.3,"s":17.6,"m":"4-QAM"},{"p":"B","t":1035.7,"s":14.6,"m":"4-QAM"},{"p":"B","t":1036.1,"s":16.4,"m":"4-QAM"},{"p":"B","t":1036.5,"s":18.2,"m":"4-QAM"},{"p":"B","t":1036.9,"s":15.8,"m":"4-QAM"},{"p":"B","t":1037.3,"s":17.0,"m":"4-QAM"},{"p":"B","t":1037.7,"s":16.2,"m":"4-QAM"},{"p":"B","t":1038.1,"s":18.6,"m":"4-QAM"},{"p":"B","t":1038.5,"s":17.4,"m":"4-QAM"},{"p":"B","t":1038.9,"s":14.3,"m":"4-QAM"},{"p":"B","t":1039.3,"s":16.7,"m":"4-QAM"},{"p":"B","t":1039.7,"s":17.8,"m":"4-QAM"},{"p":"B","t":1040.1,"s":15.5,"m":"4-QAM"},{"p":"B","t":1040.5,"s":16.9,"m":"4-QAM"},{"p":"B","t":1040.9,"s":18.1,"m":"4-QAM"},{"p":"B","t":1041.3,"s":16.0,"m":"4-QAM"},{"p":"B","t":1041.7,"s":17.3,"m":"4-QAM"},{"p":"B","t":1042.1,"s":14.8,"m":"4-QAM"},{"p":"B","t":1042.5,"s":16.5,"m":"4-QAM"},{"p":"B","t":1042.9,"s":17.7,"m":"4-QAM"},{"p":"B","t":1043.3,"s":15.4,"m":"4-QAM"},{"p":"B","t":1043.7,"s":16.8,"m":"4-QAM"},{"p":"B","t":1044.1,"s":18.4,"m":"4-QAM"},{"p":"B","t":1044.5,"s":15.9,"m":"4-QAM"},{"p":"B","t":1044.9,"s":17.1,"m":"4-QAM"},{"p":"B","t":1045.3,"s":16.3,"m":"4-QAM"},{"p":"B","t":1045.7,"s":18.7,"m":"4-QAM"},{"p":"B","t":1046.1,"s":17.5,"m":"4-QAM"},{"p":"B","t":1046.5,"s":16.1,"m":"4-QAM"},{"p":"B","t":1046.9,"s":17.9,"m":"4-QAM"},{"p":"B","t":1047.3,"s":16.6,"m":"4-QAM"},{"p":"B","t":1038.0,"s":14.0,"m":"4-QAM"},{"p":"B","t":1043.0,"s":14.5,"m":"4-QAM"},
{"p":"B","t":1054.0,"s":15.8,"m":"4-QAM"},{"p":"B","t":1054.3,"s":14.6,"m":"4-QAM"},{"p":"B","t":1054.6,"s":16.5,"m":"4-QAM"},{"p":"B","t":1054.9,"s":13.9,"m":"4-QAM"},{"p":"B","t":1055.2,"s":15.2,"m":"4-QAM"},{"p":"B","t":1055.5,"s":16.8,"m":"4-QAM"},{"p":"B","t":1055.8,"s":14.1,"m":"4-QAM"},{"p":"B","t":1056.1,"s":15.6,"m":"4-QAM"},{"p":"B","t":1056.4,"s":13.2,"m":"4-QAM"},{"p":"B","t":1056.7,"s":14.9,"m":"4-QAM"},{"p":"B","t":1057.0,"s":12.5,"m":"4-QAM"},{"p":"B","t":1057.3,"s":15.4,"m":"4-QAM"},{"p":"B","t":1055.5,"s":11.4,"m":"4-QAM"},{"p":"B","t":1056.0,"s":12.0,"m":"4-QAM"},
{"p":"C","t":505.8,"s":16.5,"m":"4-QAM"},{"p":"C","t":506.0,"s":15.0,"m":"4-QAM"},{"p":"C","t":506.2,"s":12.8,"m":"4-QAM"},{"p":"C","t":506.4,"s":14.2,"m":"4-QAM"},{"p":"C","t":506.6,"s":11.5,"m":"4-QAM"},{"p":"C","t":506.8,"s":16.0,"m":"4-QAM"},{"p":"C","t":507.0,"s":10.3,"m":"4-QAM"},{"p":"C","t":507.2,"s":13.5,"m":"4-QAM"},{"p":"C","t":507.4,"s":9.5,"m":"4-QAM"},{"p":"C","t":507.6,"s":12.0,"m":"4-QAM"},{"p":"C","t":507.8,"s":8.8,"m":"4-QAM"},{"p":"C","t":508.0,"s":15.5,"m":"4-QAM"},{"p":"C","t":508.2,"s":10.8,"m":"4-QAM"},{"p":"C","t":508.4,"s":8.2,"m":"4-QAM"},{"p":"C","t":508.6,"s":11.2,"m":"4-QAM"},{"p":"C","t":508.8,"s":9.0,"m":"4-QAM"},{"p":"C","t":509.0,"s":16.9,"m":"4-QAM"},{"p":"C","t":509.2,"s":13.0,"m":"4-QAM"},{"p":"C","t":506.5,"s":7.5,"m":"4-QAM"},{"p":"C","t":507.3,"s":5.5,"m":"4-QAM"},{"p":"C","t":505.9,"s":8.6,"m":"4-QAM"},{"p":"C","t":508.5,"s":14.0,"m":"4-QAM"},
{"p":"C","t":513.9,"s":16.5,"m":"4-QAM"},{"p":"C","t":514.2,"s":18.9,"m":"4-QAM"},{"p":"C","t":514.4,"s":15.0,"m":"4-QAM"},{"p":"C","t":514.6,"s":17.6,"m":"4-QAM"},{"p":"C","t":514.8,"s":14.2,"m":"4-QAM"},{"p":"C","t":515.0,"s":16.8,"m":"4-QAM"},{"p":"C","t":515.2,"s":18.0,"m":"4-QAM"},{"p":"C","t":515.4,"s":15.5,"m":"4-QAM"},{"p":"C","t":515.6,"s":17.2,"m":"4-QAM"},{"p":"C","t":515.8,"s":14.6,"m":"4-QAM"},{"p":"C","t":516.0,"s":16.1,"m":"4-QAM"},{"p":"C","t":516.2,"s":17.8,"m":"4-QAM"},{"p":"C","t":516.4,"s":15.2,"m":"4-QAM"},{"p":"C","t":516.6,"s":13.8,"m":"4-QAM"},{"p":"C","t":516.8,"s":16.6,"m":"4-QAM"},{"p":"C","t":517.0,"s":15.9,"m":"4-QAM"},{"p":"C","t":517.3,"s":17.4,"m":"4-QAM"},{"p":"C","t":515.3,"s":6.4,"m":"4-QAM"},
{"p":"C","t":517.8,"s":16.5,"m":"8-QAM"},{"p":"C","t":518.1,"s":17.2,"m":"8-QAM"},{"p":"C","t":518.4,"s":15.9,"m":"8-QAM"},{"p":"C","t":518.7,"s":17.8,"m":"8-QAM"},{"p":"C","t":519.0,"s":16.8,"m":"8-QAM"},{"p":"C","t":519.3,"s":15.1,"m":"8-QAM"},{"p":"C","t":519.6,"s":17.4,"m":"8-QAM"},{"p":"C","t":519.9,"s":14.3,"m":"8-QAM"},{"p":"C","t":520.2,"s":16.9,"m":"8-QAM"},{"p":"C","t":520.5,"s":13.4,"m":"8-QAM"},{"p":"C","t":520.8,"s":18.0,"m":"8-QAM"},{"p":"C","t":521.0,"s":12.2,"m":"8-QAM"},{"p":"C","t":521.2,"s":10.8,"m":"8-QAM"},{"p":"C","t":521.3,"s":9.4,"m":"8-QAM"},{"p":"C","t":521.5,"s":17.3,"m":"8-QAM"},{"p":"C","t":521.8,"s":18.4,"m":"8-QAM"},{"p":"C","t":522.1,"s":17.0,"m":"8-QAM"},{"p":"C","t":522.4,"s":18.8,"m":"8-QAM"},{"p":"C","t":522.7,"s":17.6,"m":"8-QAM"},{"p":"C","t":523.0,"s":18.2,"m":"8-QAM"},{"p":"C","t":523.3,"s":19.0,"m":"8-QAM"},{"p":"C","t":523.6,"s":17.8,"m":"8-QAM"},{"p":"C","t":523.9,"s":18.6,"m":"8-QAM"},{"p":"C","t":524.2,"s":19.3,"m":"8-QAM"},{"p":"C","t":524.5,"s":18.1,"m":"8-QAM"},{"p":"C","t":524.8,"s":18.9,"m":"8-QAM"},{"p":"C","t":525.1,"s":17.5,"m":"8-QAM"},{"p":"C","t":525.4,"s":19.4,"m":"8-QAM"},{"p":"C","t":525.7,"s":18.4,"m":"8-QAM"},{"p":"C","t":526.0,"s":17.9,"m":"8-QAM"},{"p":"C","t":526.3,"s":19.1,"m":"8-QAM"},{"p":"C","t":526.6,"s":18.6,"m":"8-QAM"},{"p":"C","t":526.9,"s":19.4,"m":"8-QAM"},{"p":"C","t":527.2,"s":18.0,"m":"8-QAM"},{"p":"C","t":527.6,"s":18.8,"m":"8-QAM"},{"p":"C","t":528.0,"s":19.2,"m":"8-QAM"},{"p":"C","t":520.0,"s":15.3,"m":"8-QAM"},{"p":"C","t":521.1,"s":11.5,"m":"8-QAM"},
{"p":"C","t":528.0,"s":18.5,"m":"16-QAM"},{"p":"C","t":528.4,"s":19.3,"m":"16-QAM"},{"p":"C","t":528.8,"s":20.0,"m":"16-QAM"},{"p":"C","t":529.2,"s":18.8,"m":"16-QAM"},{"p":"C","t":529.5,"s":17.9,"m":"16-QAM"},{"p":"C","t":529.8,"s":19.5,"m":"16-QAM"},{"p":"C","t":529.9,"s":15.6,"m":"16-QAM"},{"p":"C","t":530.0,"s":16.6,"m":"16-QAM"},{"p":"C","t":530.2,"s":18.4,"m":"16-QAM"},{"p":"C","t":530.6,"s":19.1,"m":"16-QAM"},{"p":"C","t":531.0,"s":17.8,"m":"16-QAM"},{"p":"C","t":531.4,"s":18.7,"m":"16-QAM"},{"p":"C","t":531.8,"s":19.4,"m":"16-QAM"},{"p":"C","t":532.2,"s":18.1,"m":"16-QAM"},{"p":"C","t":532.6,"s":17.6,"m":"16-QAM"},{"p":"C","t":533.0,"s":18.9,"m":"16-QAM"},{"p":"C","t":533.4,"s":18.3,"m":"16-QAM"},{"p":"C","t":533.8,"s":17.8,"m":"16-QAM"},{"p":"C","t":534.2,"s":19.0,"m":"16-QAM"},{"p":"C","t":534.6,"s":18.4,"m":"16-QAM"},{"p":"C","t":535.0,"s":17.7,"m":"16-QAM"},{"p":"C","t":535.4,"s":18.6,"m":"16-QAM"},{"p":"C","t":535.8,"s":17.9,"m":"16-QAM"},{"p":"C","t":535.9,"s":15.3,"m":"16-QAM"},{"p":"C","t":536.2,"s":18.8,"m":"16-QAM"},{"p":"C","t":536.6,"s":18.1,"m":"16-QAM"},{"p":"C","t":537.0,"s":17.6,"m":"16-QAM"},{"p":"C","t":537.4,"s":18.5,"m":"16-QAM"},{"p":"C","t":537.8,"s":18.0,"m":"16-QAM"},{"p":"C","t":538.2,"s":17.5,"m":"16-QAM"},
{"p":"C","t":543.8,"s":18.0,"m":"16-QAM"},{"p":"C","t":544.2,"s":18.8,"m":"16-QAM"},{"p":"C","t":544.6,"s":18.3,"m":"16-QAM"},{"p":"C","t":544.7,"s":16.9,"m":"16-QAM"},{"p":"C","t":545.0,"s":19.0,"m":"16-QAM"},{"p":"C","t":545.4,"s":18.4,"m":"16-QAM"},{"p":"C","t":545.8,"s":17.9,"m":"16-QAM"},{"p":"C","t":546.2,"s":18.7,"m":"16-QAM"},{"p":"C","t":546.6,"s":19.2,"m":"16-QAM"},{"p":"C","t":547.0,"s":18.1,"m":"16-QAM"},{"p":"C","t":547.4,"s":18.6,"m":"16-QAM"},{"p":"C","t":547.8,"s":17.7,"m":"16-QAM"},{"p":"C","t":548.2,"s":19.3,"m":"16-QAM"},{"p":"C","t":548.6,"s":18.5,"m":"16-QAM"},{"p":"C","t":549.0,"s":19.5,"m":"16-QAM"},{"p":"C","t":549.4,"s":18.2,"m":"16-QAM"},{"p":"C","t":549.8,"s":18.9,"m":"16-QAM"},{"p":"C","t":550.2,"s":17.8,"m":"16-QAM"},{"p":"C","t":550.6,"s":19.2,"m":"16-QAM"},{"p":"C","t":551.0,"s":18.4,"m":"16-QAM"},{"p":"C","t":551.4,"s":17.9,"m":"16-QAM"},{"p":"C","t":549.6,"s":-0.9,"m":"16-QAM"},{"p":"C","t":545.5,"s":17.3,"m":"16-QAM"},
{"p":"C","t":552.0,"s":17.8,"m":"8-QAM"},{"p":"C","t":552.4,"s":16.6,"m":"8-QAM"},{"p":"C","t":552.8,"s":18.3,"m":"8-QAM"},{"p":"C","t":553.2,"s":15.2,"m":"8-QAM"},{"p":"C","t":553.6,"s":17.4,"m":"8-QAM"},{"p":"C","t":554.0,"s":14.9,"m":"8-QAM"},{"p":"C","t":554.4,"s":16.8,"m":"8-QAM"},{"p":"C","t":554.8,"s":18.1,"m":"8-QAM"},{"p":"C","t":555.2,"s":15.7,"m":"8-QAM"},{"p":"C","t":555.6,"s":17.2,"m":"8-QAM"},{"p":"C","t":556.0,"s":14.3,"m":"8-QAM"},{"p":"C","t":556.4,"s":16.4,"m":"8-QAM"},{"p":"C","t":556.8,"s":17.9,"m":"8-QAM"},{"p":"C","t":557.2,"s":15.8,"m":"8-QAM"},{"p":"C","t":557.6,"s":18.5,"m":"8-QAM"},{"p":"C","t":558.0,"s":17.0,"m":"8-QAM"},{"p":"C","t":558.4,"s":16.3,"m":"8-QAM"},{"p":"C","t":558.8,"s":18.2,"m":"8-QAM"},{"p":"C","t":559.2,"s":17.4,"m":"8-QAM"},{"p":"C","t":559.6,"s":16.7,"m":"8-QAM"},{"p":"C","t":560.0,"s":18.7,"m":"8-QAM"},{"p":"C","t":560.4,"s":17.6,"m":"8-QAM"},{"p":"C","t":560.8,"s":16.0,"m":"8-QAM"},{"p":"C","t":561.2,"s":18.0,"m":"8-QAM"},{"p":"C","t":561.6,"s":17.1,"m":"8-QAM"},{"p":"C","t":562.0,"s":15.6,"m":"8-QAM"},{"p":"C","t":562.4,"s":17.8,"m":"8-QAM"},{"p":"C","t":562.8,"s":16.5,"m":"8-QAM"},{"p":"C","t":563.2,"s":18.4,"m":"8-QAM"},{"p":"C","t":563.6,"s":17.2,"m":"8-QAM"},{"p":"C","t":564.0,"s":16.2,"m":"8-QAM"},{"p":"C","t":564.4,"s":17.7,"m":"8-QAM"},{"p":"C","t":564.8,"s":15.3,"m":"8-QAM"},{"p":"C","t":565.2,"s":17.0,"m":"8-QAM"},{"p":"C","t":565.6,"s":16.4,"m":"8-QAM"},{"p":"C","t":566.0,"s":17.9,"m":"8-QAM"},{"p":"C","t":566.4,"s":14.6,"m":"8-QAM"},{"p":"C","t":566.8,"s":16.9,"m":"8-QAM"},{"p":"C","t":567.2,"s":17.5,"m":"8-QAM"},{"p":"C","t":567.6,"s":15.8,"m":"8-QAM"},{"p":"C","t":568.0,"s":13.4,"m":"8-QAM"},{"p":"C","t":568.4,"s":16.6,"m":"8-QAM"},{"p":"C","t":568.8,"s":17.2,"m":"8-QAM"},{"p":"C","t":569.2,"s":16.0,"m":"8-QAM"},{"p":"C","t":555.0,"s":14.0,"m":"8-QAM"},{"p":"C","t":567.0,"s":14.0,"m":"8-QAM"},
{"p":"C","t":573.6,"s":17.2,"m":"8-QAM"},{"p":"C","t":573.9,"s":18.0,"m":"8-QAM"},{"p":"C","t":574.2,"s":16.6,"m":"8-QAM"},{"p":"C","t":574.5,"s":17.7,"m":"8-QAM"},{"p":"C","t":574.8,"s":16.1,"m":"8-QAM"},{"p":"C","t":575.1,"s":18.3,"m":"8-QAM"},{"p":"C","t":575.4,"s":17.0,"m":"8-QAM"},{"p":"C","t":575.7,"s":16.4,"m":"8-QAM"},{"p":"C","t":576.0,"s":17.8,"m":"8-QAM"},{"p":"C","t":576.3,"s":15.9,"m":"8-QAM"},{"p":"C","t":576.6,"s":17.3,"m":"8-QAM"},{"p":"C","t":576.9,"s":16.7,"m":"8-QAM"},{"p":"C","t":577.2,"s":17.9,"m":"8-QAM"},{"p":"C","t":577.5,"s":16.3,"m":"8-QAM"},
{"p":"C","t":578.2,"s":16.5,"m":"4-QAM"},{"p":"C","t":578.6,"s":15.4,"m":"4-QAM"},{"p":"C","t":579.0,"s":17.3,"m":"4-QAM"},{"p":"C","t":579.4,"s":16.1,"m":"4-QAM"},{"p":"C","t":579.8,"s":14.8,"m":"4-QAM"},{"p":"C","t":580.2,"s":16.8,"m":"4-QAM"},{"p":"C","t":580.6,"s":15.6,"m":"4-QAM"},{"p":"C","t":581.0,"s":17.6,"m":"4-QAM"},{"p":"C","t":581.4,"s":16.3,"m":"4-QAM"},{"p":"C","t":581.8,"s":14.5,"m":"4-QAM"},{"p":"C","t":582.2,"s":15.9,"m":"4-QAM"},{"p":"C","t":582.6,"s":17.0,"m":"4-QAM"},{"p":"C","t":583.0,"s":15.1,"m":"4-QAM"},{"p":"C","t":583.4,"s":16.5,"m":"4-QAM"},{"p":"C","t":583.8,"s":14.2,"m":"4-QAM"},{"p":"C","t":584.2,"s":15.7,"m":"4-QAM"},{"p":"C","t":584.6,"s":17.2,"m":"4-QAM"},{"p":"C","t":585.0,"s":16.0,"m":"4-QAM"},{"p":"C","t":585.4,"s":17.8,"m":"4-QAM"},{"p":"C","t":585.8,"s":16.7,"m":"4-QAM"},{"p":"C","t":586.2,"s":15.3,"m":"4-QAM"},{"p":"C","t":586.6,"s":17.4,"m":"4-QAM"},{"p":"C","t":587.0,"s":16.2,"m":"4-QAM"},{"p":"C","t":587.4,"s":14.9,"m":"4-QAM"},{"p":"C","t":587.8,"s":16.6,"m":"4-QAM"},{"p":"C","t":588.2,"s":15.5,"m":"4-QAM"},{"p":"C","t":588.6,"s":14.1,"m":"4-QAM"},{"p":"C","t":589.0,"s":15.8,"m":"4-QAM"},{"p":"C","t":589.4,"s":16.9,"m":"4-QAM"},{"p":"C","t":589.8,"s":15.0,"m":"4-QAM"},{"p":"C","t":590.2,"s":13.6,"m":"4-QAM"},{"p":"C","t":590.6,"s":16.4,"m":"4-QAM"},{"p":"C","t":591.0,"s":17.5,"m":"4-QAM"},{"p":"C","t":591.4,"s":15.6,"m":"4-QAM"},{"p":"C","t":591.8,"s":16.8,"m":"4-QAM"},{"p":"C","t":592.2,"s":14.7,"m":"4-QAM"},{"p":"C","t":592.6,"s":15.9,"m":"4-QAM"},{"p":"C","t":593.0,"s":13.2,"m":"4-QAM"},{"p":"C","t":593.4,"s":15.1,"m":"4-QAM"},{"p":"C","t":593.8,"s":14.3,"m":"4-QAM"},{"p":"C","t":594.2,"s":15.4,"m":"4-QAM"},{"p":"C","t":594.6,"s":13.5,"m":"4-QAM"},{"p":"C","t":595.0,"s":12.6,"m":"4-QAM"},{"p":"C","t":595.4,"s":14.8,"m":"4-QAM"},{"p":"C","t":595.8,"s":13.0,"m":"4-QAM"},{"p":"C","t":596.2,"s":14.1,"m":"4-QAM"},{"p":"C","t":596.6,"s":12.4,"m":"4-QAM"},{"p":"C","t":597.0,"s":13.7,"m":"4-QAM"},{"p":"C","t":597.4,"s":14.6,"m":"4-QAM"},{"p":"C","t":597.8,"s":12.9,"m":"4-QAM"},{"p":"C","t":598.2,"s":13.8,"m":"4-QAM"},{"p":"C","t":579.3,"s":10.2,"m":"4-QAM"},{"p":"C","t":596.0,"s":9.0,"m":"4-QAM"}]
},
"vconcat":[
{"width":1051,"height":200,
"layer":[
{"layer":[
{"data":{"name":"shade"},"mark":{"type":"rect","color":"#1f77b4","opacity":0.2},
"encoding":{"x":{"field":"t0","type":"quantitative","scale":{"domain":[9.046,38.946],"nice":false,"zero":false},
"axis":{"orient":"top","values":[11,13,15,17,19,21,23,25,27,29,31,33,35,37],"labelExpr":"pad(toString(datum.value % 24), 2, '0', 'left') + ':00'","title":null,"grid":true,"labelPadding":14,"labelOverlap":false}},"x2":{"field":"t1"}}},
{"data":{"name":"power"},"mark":{"type":"line","color":"#1f77b4","strokeWidth":3.2},
"encoding":{"x":{"field":"t","type":"quantitative"},"y":{"field":"p","type":"quantitative","scale":{"domain":[-61.9,-8.5],"nice":false,"zero":false},"axis":{"values":[-60,-50,-40,-30,-20,-10],"title":"Received power [dBm]","grid":true,"labelOverlap":false,"labelBound":false}}}},
{"data":{"name":"shade"},"mark":{"type":"text","fontSize":20},"encoding":{"x":{"field":"tm","type":"quantitative"},"y":{"datum":-55.5,"type":"quantitative","axis":{"values":[-60,-50,-40,-30,-20,-10],"title":"Received power [dBm]","grid":true,"labelOverlap":false,"labelBound":false}},"text":{"field":"lab"}}},
{"data":{"name":"conn"},"mark":{"type":"rule","color":"black","strokeWidth":2,"strokeDash":[2,4]},"encoding":{"x":{"field":"t0","type":"quantitative"},"x2":{"field":"t1"},"y":{"field":"p0","type":"quantitative","axis":{"values":[-60,-50,-40,-30,-20,-10],"title":"Received power [dBm]","grid":true,"labelOverlap":false,"labelBound":false}},"y2":{"field":"p1"}}},
{"data":{"values":[{"t":14.138,"p":-16.53},{"t":36.175,"p":-37.73}]},"mark":{"type":"point","shape":"M0,-1C0.26,-1 0.47,-0.5523 0.47,0C0.47,0.5523 0.26,1 0,1C-0.26,1 -0.47,0.5523 -0.47,0C-0.47,-0.5523 -0.26,-1 0,-1Z","size":1444,"filled":false,"stroke":"black","strokeWidth":2,"opacity":1},"encoding":{"x":{"field":"t","type":"quantitative"},"y":{"field":"p","type":"quantitative","axis":{"values":[-60,-50,-40,-30,-20,-10],"title":"Received power [dBm]","grid":true,"labelOverlap":false,"labelBound":false}}}},
{"data":{"values":[{"t0":14.195,"t1":12.289,"p":-21.33},{"t0":36.167,"t1":38.16,"p":-42.93}]},"mark":{"type":"rule","color":"black","strokeWidth":2},"encoding":{"x":{"field":"t0","type":"quantitative"},"x2":{"field":"t1"},"y":{"field":"p","type":"quantitative","axis":{"values":[-60,-50,-40,-30,-20,-10],"title":"Received power [dBm]","grid":true,"labelOverlap":false,"labelBound":false}}}},
{"data":{"values":[{"t":12.289,"p":-21.33}]},"mark":{"type":"point","shape":"M2.4,-1L0,0L2.4,1","size":100,"filled":false,"stroke":"black","strokeWidth":2,"opacity":1},"encoding":{"x":{"field":"t","type":"quantitative"},"y":{"field":"p","type":"quantitative","axis":{"values":[-60,-50,-40,-30,-20,-10],"title":"Received power [dBm]","grid":true,"labelOverlap":false,"labelBound":false}}}},
{"data":{"values":[{"t":38.16,"p":-42.93}]},"mark":{"type":"point","shape":"M-2.4,-1L0,0L-2.4,1","size":100,"filled":false,"stroke":"black","strokeWidth":2,"opacity":1},"encoding":{"x":{"field":"t","type":"quantitative"},"y":{"field":"p","type":"quantitative","axis":{"values":[-60,-50,-40,-30,-20,-10],"title":"Received power [dBm]","grid":true,"labelOverlap":false,"labelBound":false}}}},
{"data":{"values":[{"t":15,"l":"October 14, 2024"},{"t":33,"l":"October 15, 2024"}]},"mark":{"type":"text","fontSize":20,"baseline":"alphabetic"},"encoding":{"x":{"field":"t","type":"quantitative"},"y":{"datum":1.9,"type":"quantitative","axis":{"values":[-60,-50,-40,-30,-20,-10],"title":"Received power [dBm]","grid":true,"labelOverlap":false,"labelBound":false}},"text":{"field":"l"}}},
{"mark":{"type":"rule","color":"black","strokeWidth":2},"encoding":{"y":{"datum":-61.9,"type":"quantitative","axis":{"values":[-60,-50,-40,-30,-20,-10],"title":"Received power [dBm]","grid":true,"labelOverlap":false,"labelBound":false}}}}
]},
{"data":{"name":"rytov"},"mark":{"type":"line","color":"#ff7f0e","strokeWidth":3.2},
"encoding":{"x":{"field":"t","type":"quantitative"},"y":{"field":"r","type":"quantitative","scale":{"type":"log","domain":[0.0204,11.7],"nice":false},
"axis":{"orient":"right","grid":false,"title":"σᵢ² (Rytov variance)","titleAngle":270,"titleBaseline":"top","titlePadding":14,"labelOverlap":false,"values":[0.03,0.04,0.05,0.06,0.07,0.08,0.09,0.1,0.2,0.3,0.4,0.5,0.6,0.7,0.8,0.9,1,2,3,4,5,6,7,8,9,10],
"labelExpr":"datum.value == 0.1 ? '10⁻¹' : datum.value == 1 ? '10⁰' : datum.value == 10 ? '10¹' : ''",
"tickSize":{"condition":{"test":"datum.value == 0.1 || datum.value == 1 || datum.value == 10","value":-7},"value":-3.5}}}}}
],
"resolve":{"scale":{"y":"independent"}}},
{"hconcat":[
{"width":328,"height":200,
"layer":[
{"data":{"name":"bands"},"transform":[{"filter":"datum.p=='A'"}],"mark":{"type":"rect"},"encoding":{"x":{"field":"a","type":"quantitative","scale":{"domain":[630,729.2],"nice":false,"zero":false},"axis":{"values":[650,680,710],"title":null,"grid":true,"labelPadding":7,"labelExpr":"pad(toString(floor(datum.value/60)%24),2,'0','left') + ':' + pad(toString(datum.value%60),2,'0','left')"}},"x2":{"field":"b"},"color":{"condition":{"test":"datum.k=='al'","value":"#d62728"},"value":"#1f77b4"},"opacity":{"condition":{"test":"datum.k=='al'","value":0.3},"value":0.1}}},
{"data":{"name":"fl"},"transform":[{"filter":"datum.p=='A'"}],"mark":{"type":"text","angle":270,"align":"left","baseline":"middle","fontSize":14},"encoding":{"x":{"field":"t","type":"quantitative"},"y":{"datum":-4.3},"text":{"field":"l"},"color":{"condition":{"test":"datum.k=='al'","value":"#d62728"},"value":"#1f77b4"},"opacity":{"value":0.6}}},
{"data":{"values":[{"a":633.6,"b":640.9}]},"mark":{"type":"rect","color":"white","opacity":0.85},"encoding":{"x":{"field":"a","type":"quantitative"},"x2":{"field":"b"},"y":{"datum":21.4},"y2":{"datum":18.8}}},
{"data":{"values":[{"t":634.9,"l":"A"}]},"mark":{"type":"text","fontSize":21,"align":"left","baseline":"middle"},"encoding":{"x":{"field":"t","type":"quantitative"},"y":{"datum":20.1},"text":{"field":"l"}}},
{"data":{"name":"snr"},"transform":[{"filter":"datum.p=='A'"}],"mark":{"type":"point","filled":false,"size":62,"strokeWidth":1.15,"opacity":1},"encoding":{"x":{"field":"t","type":"quantitative"},"y":{"field":"s","type":"quantitative","scale":{"domain":[-4.86,22.12],"nice":false,"zero":false},"axis":{"values":[0,10,20],"title":"Electrical SNR [dB]","grid":true,"labelOverlap":false}},"color":{"field":"m","type":"nominal","scale":{"domain":["4-QAM","8-QAM","16-QAM"],"range":["#1f77b4","#ff7f0e","#2ca02c"]},"legend":null},"shape":{"field":"m","type":"nominal","scale":{"domain":["4-QAM","8-QAM","16-QAM"],"range":["circle","diamond","triangle-up"]},"legend":null}}},
{"mark":{"type":"rule","color":"black","strokeWidth":2},"encoding":{"y":{"datum":22.12}}},
{"data":{"values":[{"t":729.2,"s":22.12},{"t":729.2,"s":-4.86}]},"mark":{"type":"point","shape":"M-1,0.76L1,-0.76","size":289,"filled":false,"stroke":"black","strokeWidth":2,"opacity":1},"encoding":{"x":{"field":"t","type":"quantitative"},"y":{"field":"s","type":"quantitative"}}}
]},
{"width":325,"height":200,
"layer":[
{"data":{"name":"bands"},"transform":[{"filter":"datum.p=='B'"}],"mark":{"type":"rect"},"encoding":{"x":{"field":"a","type":"quantitative","scale":{"domain":[965.3,1059.5],"nice":false,"zero":false},"axis":{"values":[990,1020,1050],"title":null,"grid":true,"labelPadding":7,"labelExpr":"pad(toString(floor(datum.value/60)%24),2,'0','left') + ':' + pad(toString(datum.value%60),2,'0','left')"}},"x2":{"field":"b"},"color":{"condition":{"test":"datum.k=='al'","value":"#d62728"},"value":"#1f77b4"},"opacity":{"condition":{"test":"datum.k=='al'","value":0.3},"value":0.1}}},
{"data":{"name":"fl"},"transform":[{"filter":"datum.p=='B'"}],"mark":{"type":"text","angle":270,"align":"left","baseline":"middle","fontSize":14},"encoding":{"x":{"field":"t","type":"quantitative"},"y":{"datum":-4.3},"text":{"field":"l"},"color":{"condition":{"test":"datum.k=='al'","value":"#d62728"},"value":"#1f77b4"},"opacity":{"value":0.6}}},
{"data":{"values":[{"a":968.8,"b":974.6}]},"mark":{"type":"rect","color":"white","opacity":0.85},"encoding":{"x":{"field":"a","type":"quantitative"},"x2":{"field":"b"},"y":{"datum":21.4},"y2":{"datum":18.8}}},
{"data":{"values":[{"t":969.6,"l":"B"}]},"mark":{"type":"text","fontSize":21,"align":"left","baseline":"middle"},"encoding":{"x":{"field":"t","type":"quantitative"},"y":{"datum":20.1},"text":{"field":"l"}}},
{"data":{"name":"snr"},"transform":[{"filter":"datum.p=='B'"}],"mark":{"type":"point","filled":false,"size":62,"strokeWidth":1.15,"opacity":1},"encoding":{"x":{"field":"t","type":"quantitative"},"y":{"field":"s","type":"quantitative","scale":{"domain":[-4.86,22.12],"nice":false,"zero":false},"axis":{"values":[0,10,20],"title":null,"labels":false,"domain":false,"grid":true}},"color":{"field":"m","type":"nominal","scale":{"domain":["4-QAM","8-QAM","16-QAM"],"range":["#1f77b4","#ff7f0e","#2ca02c"]},"legend":{"orient":"none","legendX":6,"legendY":168,"direction":"horizontal","title":null,"labelFontSize":17,"labelFont":"Liberation Serif","symbolSize":80,"symbolStrokeWidth":1.3,"symbolOffset":9,"fillColor":"rgba(255,255,255,0.8)","strokeColor":"#777777","padding":4,"cornerRadius":4,"columnPadding":4,"labelOffset":12}},"shape":{"field":"m","type":"nominal","scale":{"domain":["4-QAM","8-QAM","16-QAM"],"range":["circle","diamond","triangle-up"]},"legend":{"orient":"none","legendX":6,"legendY":168,"direction":"horizontal","title":null,"labelFontSize":17,"labelFont":"Liberation Serif","symbolSize":80,"symbolStrokeWidth":1.3,"symbolOffset":9,"fillColor":"rgba(255,255,255,0.8)","strokeColor":"#777777","padding":4,"cornerRadius":4,"columnPadding":4,"labelOffset":12}}}},
{"mark":{"type":"rule","color":"black","strokeWidth":2},"encoding":{"y":{"datum":22.12}}},
{"data":{"values":[{"t":965.3,"s":22.12},{"t":965.3,"s":-4.86},{"t":1059.5,"s":22.12},{"t":1059.5,"s":-4.86}]},"mark":{"type":"point","shape":"M-1,0.76L1,-0.76","size":289,"filled":false,"stroke":"black","strokeWidth":2,"opacity":1},"encoding":{"x":{"field":"t","type":"quantitative"},"y":{"field":"s","type":"quantitative"}}}
]},
{"width":328,"height":200,
"layer":[
{"data":{"name":"bands"},"transform":[{"filter":"datum.p=='C'"}],"mark":{"type":"rect"},"encoding":{"x":{"field":"a","type":"quantitative","scale":{"domain":[500.1,600],"nice":false,"zero":false},"axis":{"values":[520,550,580],"title":null,"grid":true,"labelPadding":7,"labelExpr":"pad(toString(floor(datum.value/60)%24),2,'0','left') + ':' + pad(toString(datum.value%60),2,'0','left')"}},"x2":{"field":"b"},"color":{"condition":{"test":"datum.k=='al'","value":"#d62728"},"value":"#1f77b4"},"opacity":{"condition":{"test":"datum.k=='al'","value":0.3},"value":0.1}}},
{"data":{"name":"fl"},"transform":[{"filter":"datum.p=='C'"}],"mark":{"type":"text","angle":270,"align":"left","baseline":"middle","fontSize":14},"encoding":{"x":{"field":"t","type":"quantitative"},"y":{"datum":-4.3},"text":{"field":"l"},"color":{"condition":{"test":"datum.k=='al'","value":"#d62728"},"value":"#1f77b4"},"opacity":{"value":0.6}}},
{"data":{"values":[{"a":503.7,"b":510.4}]},"mark":{"type":"rect","color":"white","opacity":0.85},"encoding":{"x":{"field":"a","type":"quantitative"},"x2":{"field":"b"},"y":{"datum":21.4},"y2":{"datum":18.8}}},
{"data":{"values":[{"t":504.9,"l":"C"}]},"mark":{"type":"text","fontSize":21,"align":"left","baseline":"middle"},"encoding":{"x":{"field":"t","type":"quantitative"},"y":{"datum":20.1},"text":{"field":"l"}}},
{"data":{"name":"snr"},"transform":[{"filter":"datum.p=='C'"}],"mark":{"type":"point","filled":false,"size":62,"strokeWidth":1.15,"opacity":1},"encoding":{"x":{"field":"t","type":"quantitative"},"y":{"field":"s","type":"quantitative","scale":{"domain":[-4.86,22.12],"nice":false,"zero":false},"axis":{"values":[0,10,20],"title":null,"labels":false,"domain":false,"grid":true}},"color":{"field":"m","type":"nominal","scale":{"domain":["4-QAM","8-QAM","16-QAM"],"range":["#1f77b4","#ff7f0e","#2ca02c"]},"legend":null},"shape":{"field":"m","type":"nominal","scale":{"domain":["4-QAM","8-QAM","16-QAM"],"range":["circle","diamond","triangle-up"]},"legend":null}}},
{"mark":{"type":"rule","color":"black","strokeWidth":2},"encoding":{"y":{"datum":22.12}}},
{"mark":{"type":"rule","color":"black","strokeWidth":2},"encoding":{"x":{"datum":600}}},
{"data":{"values":[{"t":500.1,"s":22.12},{"t":500.1,"s":-4.86}]},"mark":{"type":"point","shape":"M-1,0.76L1,-0.76","size":289,"filled":false,"stroke":"black","strokeWidth":2,"opacity":1},"encoding":{"x":{"field":"t","type":"quantitative"},"y":{"field":"s","type":"quantitative"}}}
]}
],
"spacing":35,"bounds":"flush",
"resolve":{"scale":{"color":"independent","shape":"independent"},"legend":{"color":"independent","shape":"independent"}}}
],
"spacing":40,"bounds":"flush"
}
